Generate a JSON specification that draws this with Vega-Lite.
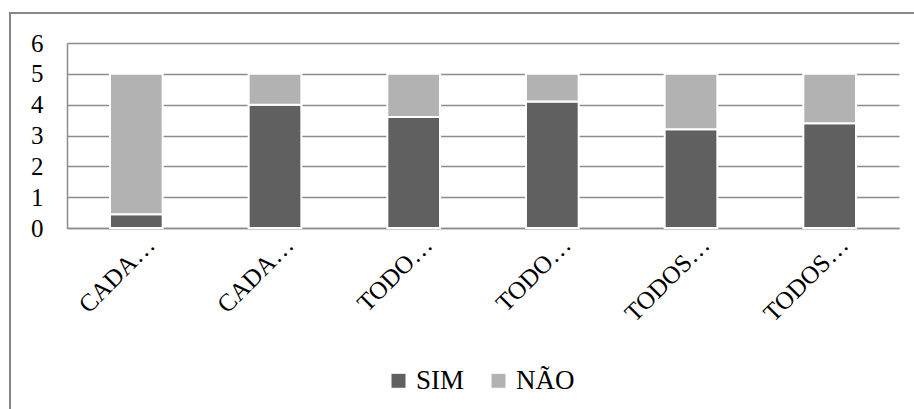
{
  "$schema": "https://vega.github.io/schema/vega-lite/v6.json",
  "autosize": "none",
  "padding": {"left": 10, "top": 13, "right": 0, "bottom": 0},
  "width": 910,
  "height": 400,
  "background": "white",
  "data": {
    "values": [
      {"cat": "CADA…|1", "serie": "SIM", "ord": 1, "valor": 0.45},
      {"cat": "CADA…|1", "serie": "NÃO", "ord": 2, "valor": 4.55},
      {"cat": "CADA…|2", "serie": "SIM", "ord": 1, "valor": 4.0},
      {"cat": "CADA…|2", "serie": "NÃO", "ord": 2, "valor": 1.0},
      {"cat": "TODO…|3", "serie": "SIM", "ord": 1, "valor": 3.6},
      {"cat": "TODO…|3", "serie": "NÃO", "ord": 2, "valor": 1.4},
      {"cat": "TODO…|4", "serie": "SIM", "ord": 1, "valor": 4.1},
      {"cat": "TODO…|4", "serie": "NÃO", "ord": 2, "valor": 0.9},
      {"cat": "TODOS…|5", "serie": "SIM", "ord": 1, "valor": 3.2},
      {"cat": "TODOS…|5", "serie": "NÃO", "ord": 2, "valor": 1.8},
      {"cat": "TODOS…|6", "serie": "SIM", "ord": 1, "valor": 3.4},
      {"cat": "TODOS…|6", "serie": "NÃO", "ord": 2, "valor": 1.6}
    ]
  },
  "mark": {"type": "bar", "stroke": "white", "strokeWidth": 2},
  "encoding": {
    "x": {
      "field": "cat",
      "type": "nominal",
      "sort": null,
      "scale": {"paddingInner": 0.62, "paddingOuter": 0.31, "range": [57, 889]},
      "axis": {
        "title": null,
        "offset": -185,
        "labelExpr": "split(datum.label, '|')[0]",
        "labelAngle": -45,
        "labelFont": "Liberation Serif, DejaVu Serif, serif",
        "labelFontSize": 25,
        "labelColor": "black",
        "labelPadding": 4,
        "labelOffset": 6,
        "ticks": false,
        "domainColor": "#8c8c8c",
        "domainWidth": 1.5,
        "grid": false
      }
    },
    "y": {
      "field": "valor",
      "type": "quantitative",
      "stack": "zero",
      "scale": {"domain": [0, 6], "nice": false, "range": [215, 30]},
      "axis": {
        "title": null,
        "offset": -57,
        "values": [0, 1, 2, 3, 4, 5, 6],
        "labelFont": "Liberation Serif, DejaVu Serif, serif",
        "labelFontSize": 25,
        "labelColor": "black",
        "labelPadding": 24,
        "ticks": false,
        "domainColor": "#8c8c8c",
        "domainWidth": 1.5,
        "gridColor": "#8c8c8c",
        "gridWidth": 1.5
      }
    },
    "color": {
      "field": "serie",
      "type": "nominal",
      "scale": {"domain": ["SIM", "NÃO"], "range": ["#606060", "#b2b2b2"]},
      "legend": {
        "title": null,
        "orient": "none",
        "legendX": 375,
        "legendY": 354,
        "direction": "horizontal",
        "symbolType": "square",
        "symbolSize": 225,
        "symbolStrokeColor": "white",
        "symbolStrokeWidth": 1,
        "labelFont": "Liberation Serif, DejaVu Serif, serif",
        "labelFontSize": 27,
        "labelColor": "black",
        "columnPadding": 20,
        "labelOffset": 4
      }
    },
    "order": {"field": "ord", "type": "quantitative"}
  },
  "config": {"view": {"stroke": "#878787", "strokeWidth": 2}}
}
